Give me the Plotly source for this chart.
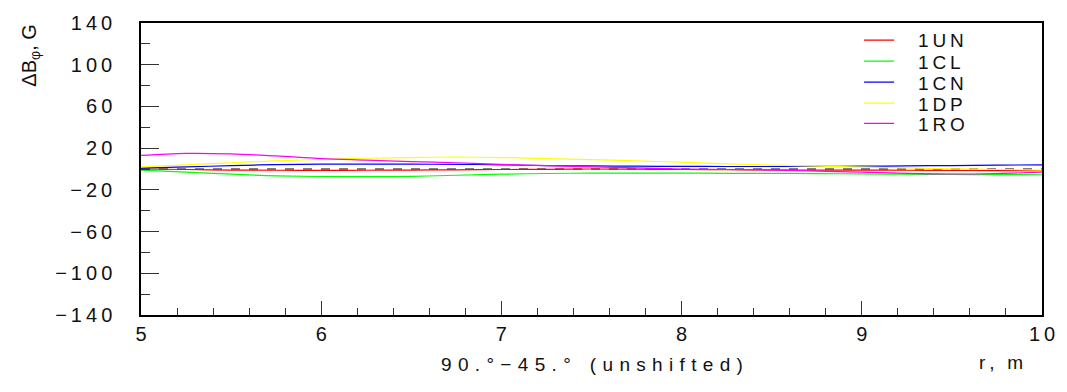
import plotly.graph_objects as go

r = [5.0, 5.25, 5.5, 5.75, 6.0, 6.25, 6.5, 6.75, 7.0, 7.25, 7.5, 7.75, 8.0, 8.25, 8.5, 8.75, 9.0, 9.25, 9.5, 9.75, 10.0]
un = [0.0, -0.5, -1.0, -1.2, -1.3, -1.2, -1.0, -0.8, -0.5, -0.3, 0.0, -0.2, -0.5, -0.7, -0.9, -1.0, -1.0, -1.2, -1.4, -1.5, -1.5]
cl = [-1.0, -3.0, -5.0, -6.5, -7.2, -7.3, -7.0, -6.0, -5.0, -4.3, -4.0, -4.0, -4.0, -4.1, -4.2, -4.4, -4.7, -5.0, -5.2, -5.4, -5.5]
cn = [0.8, 2.0, 3.2, 4.2, 4.6, 4.7, 4.6, 4.5, 4.0, 3.3, 3.0, 2.7, 2.5, 2.4, 2.4, 2.5, 2.7, 3.0, 3.3, 3.7, 4.0]
dp = [2.0, 4.0, 6.0, 7.8, 9.2, 10.3, 11.0, 11.5, 11.0, 10.0, 9.0, 7.8, 6.5, 5.0, 3.8, 2.8, 1.8, 1.0, 0.2, -0.5, -1.0]
ro = [13.0, 15.0, 14.5, 12.5, 10.0, 8.5, 7.0, 6.0, 4.5, 3.2, 2.0, 1.0, 0.0, -0.5, -1.0, -2.0, -3.0, -4.2, -4.8, -4.3, -3.0]
zero = [0.0] * len(r)

names = ["1UN", "1CL", "1CN", "1DP", "1RO"]
values = [un, cl, cn, dp, ro]
colors = ["#ff0000", "#00ff00", "#0000ff", "#ffff00", "#ff00ff"]

y_ticks = [140, 100, 60, 20, -20, -60, -100, -140]
x_ticks = [5, 6, 7, 8, 9, 10]

TS = "\u2009"
WS = "\u2004"
def spaced(s, sep=TS):
    return sep.join(list(s))

font = "Liberation Sans, Arial, sans-serif"
fig = go.Figure()
fig.add_trace(go.Scatter(x=r, y=zero, mode="lines", showlegend=False,
                         line=dict(color="black", width=1, dash="dash")))

# legend rows (pixel centres) in the reference
row_px = [35.5, 57, 78.3, 99.7, 120.3]
legends = {}
for i, (name, vals, col) in enumerate(zip(names, values, colors)):
    lg = "legend" if i == 0 else "legend%d" % (i + 1)
    fig.add_trace(go.Scatter(x=r, y=vals, mode="lines", name="\u2003" + spaced(name),
                             legend=lg,
                             line=dict(color=col, width=1.2, shape="spline")))
    legends[lg] = dict(x=0.797, y=1 - (row_px[i] - 18) / 297, xanchor="left", yanchor="middle",
                       bgcolor="rgba(0,0,0,0)", font=dict(size=19, family=font, color="#111"),
                       itemwidth=30, borderwidth=0)

fig.update_layout(
    width=1067, height=392,
    margin=dict(l=141, r=24, t=18, b=77),
    paper_bgcolor="white", plot_bgcolor="white",
    font=dict(family=font, size=20, color="#111"),
    xaxis=dict(range=[5, 10], tickvals=x_ticks, ticktext=[spaced(str(v)) for v in x_ticks],
               ticks="inside", ticklen=14, tickcolor="#333", tickwidth=1,
               minor=dict(dtick=0.2, tick0=5, ticks="inside", ticklen=7, tickcolor="#333"),
               showline=True, linecolor="black", linewidth=1.5, mirror=True,
               showgrid=False, zeroline=False, tickfont=dict(size=20)),
    yaxis=dict(range=[-140, 140], tickvals=y_ticks,
               ticktext=[("\u2212" + TS + spaced(str(-v))) if v < 0 else spaced(str(v)) for v in y_ticks],
               ticks="inside", ticklen=18, tickcolor="#333", tickwidth=1,
               minor=dict(dtick=20, tick0=0, ticks="inside", ticklen=9, tickcolor="#333"),
               showline=True, linecolor="black", linewidth=1.5, mirror=True,
               showgrid=False, zeroline=False, tickfont=dict(size=20),
               ticklabelstandoff=23),
    **legends,
)

fig.add_annotation(text="\u0394B<sub>\u03c6</sub>, G", xref="paper", yref="paper",
                   x=-0.1397, y=1.0, xanchor="left", yanchor="top", textangle=-90,
                   showarrow=False, font=dict(size=20))
fig.add_annotation(text=spaced("r, m"), xref="paper", yref="paper",
                   x=0.955, y=-0.162, xanchor="center", yanchor="middle",
                   showarrow=False, font=dict(size=19))
fig.add_annotation(text=spaced("90.°\u221245.°", WS) + "\u2003" + spaced("(unshifted)", WS),
                   xref="paper", yref="paper",
                   x=0.5, y=-0.168, xanchor="center", yanchor="middle",
                   showarrow=False, font=dict(size=19))

fig.write_html("out.html")
